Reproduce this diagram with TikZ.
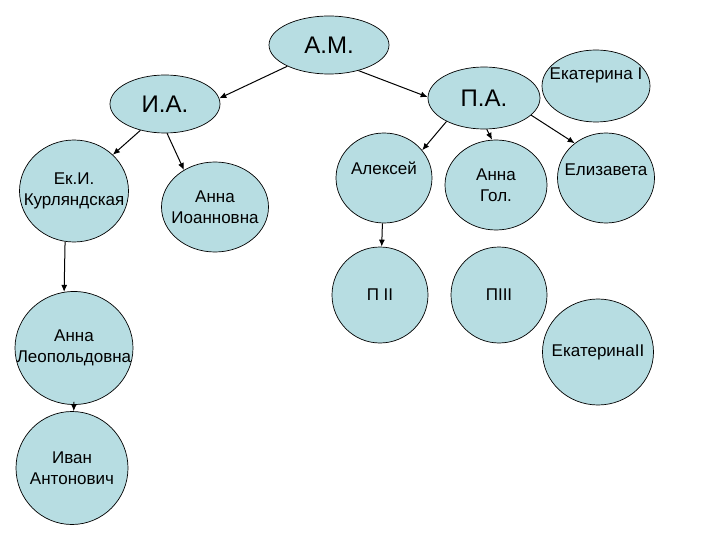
\documentclass[tikz,border=0pt]{standalone}
\usepackage{fontspec}
\setmainfont{Liberation Sans}
\usetikzlibrary{shapes.geometric,arrows.meta}
\definecolor{nodefill}{RGB}{183,221,226}

\begin{document}
\begin{tikzpicture}[x=1pt,y=-1pt]
  \tikzset{ p/.style={ellipse,draw,line width=0.7pt,fill=nodefill,inner sep=0pt},
    t/.style={align=center,inner sep=0pt,font=\fontsize{17}{21}\selectfont},
    big/.style={font=\fontsize{24}{29}\selectfont},
    a/.style={-{Latex[length=7pt,width=6pt]},line width=1pt},
  }
  \useasboundingbox (0,0) rectangle (720,540);
  \node[p,minimum width=120,minimum height=58,label={[t,big]center:А.М.}]        (1)  at (329,45)  {};
  \node[p,minimum width=110,minimum height=58,label={[t,big]center:И.А.}]        (2)  at (165,104) {};
  \node[p,minimum width=112,minimum height=62,label={[t,big]center:П.А.}]        (3)  at (484,98)  {};
  \node[p,minimum width=108,minimum height=72,label={[t,yshift=11pt]center:Екатерина I}] (4) at (596,86) {};
  \node[p,minimum width=109,minimum height=102,label={[t]center:Ек.И.\\Курляндская}]  (5)  at (74,191)  {};
  \node[p,minimum width=107,minimum height=90,label={[t]center:Анна\\Иоанновна}]     (6)  at (215,207) {};
  \node[p,minimum width=96,minimum height=90,label={[t,yshift=10pt]center:Алексей}]  (7)  at (384,178) {};
  \node[p,minimum width=102,minimum height=90,label={[t]center:Анна\\Гол.}]          (8)  at (496,185) {};
  \node[p,minimum width=97,minimum height=90,label={[t,yshift=8pt]center:Елизавета}] (9)  at (606,178) {};
  \node[p,minimum width=96,minimum height=96,label={[t]center:П II}]                (10) at (380,295) {};
  \node[p,minimum width=96,minimum height=96,label={[t]center:ПIII}]                (11) at (499,295) {};
  \node[p,minimum width=111,minimum height=106,label={[t]center:ЕкатеринаII}]       (12) at (598,352) {};
  \node[p,minimum width=118,minimum height=113,label={[t]center:Анна\\Леопольдовна}] (13) at (74,348)  {};
  \node[p,minimum width=112,minimum height=113,label={[t]center:Иван\\Антонович}]   (14) at (72,468)  {};

  % the arrows between the ellipses
  \draw[a] (1.207) -- (2.6);
  \draw[a] (1.319) -- (3.179);

  \draw[a] (2.227) -- (5.43);
  \draw[a] (2.274) -- (6.130);

  \draw[a] (3.212) -- (7.36);
  \draw[a] (3.275) -- (8.95);
  \draw[a] (3.340) -- (9.132);

  \draw[a] (5.260) -- (13.100);
  \draw[a] (7.268) -- (10.88);
  \draw[a] ([yshift=3pt]13.south) -- (14);
\end{tikzpicture}
\end{document}
